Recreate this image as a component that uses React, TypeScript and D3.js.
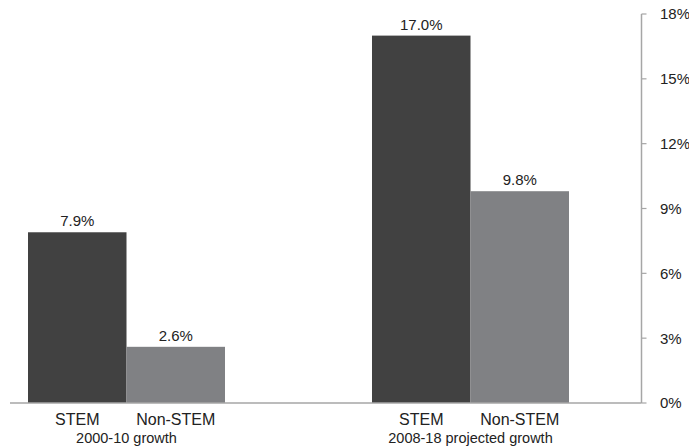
import React from "react";
import * as d3 from "d3";

const groups = ["2000-10 growth", "2008-18 projected growth"];
const series = ["STEM", "Non-STEM"];
const stemValues = [7.9, 17.0];
const nonStemValues = [2.6, 9.8];
const yTicks = [0, 3, 6, 9, 12, 15, 18];
const colors = ["#414141", "#808184"];

const W = 689;
const H = 447;

export default function App() {
  const x0 = d3.scaleBand<string>().domain(groups).range([28, 569]).paddingInner(0.4273).paddingOuter(0);
  const x1 = d3.scaleBand<string>().domain(series).range([0, x0.bandwidth()]).padding(0);
  const y = d3.scaleLinear().domain([0, 18]).range([403, 14]);
  const axisX = 641.5;
  const font = "'Liberation Sans', Arial, Helvetica, sans-serif";
  const valuesBySeries = [stemValues, nonStemValues];

  return (
    <svg width={W} height={H} style={{ position: "absolute", left: 0, top: 0, fontFamily: font }}>
      <rect width={W} height={H} fill="#fff" />
      {groups.map((g, gi) => (
        <g key={g} transform={`translate(${x0(g)},0)`}>
          {series.map((s, si) => {
            const v = valuesBySeries[si][gi];
            const bx = x1(s)!;
            const bw = x1.bandwidth();
            return (
              <g key={s}>
                <rect x={bx} y={y(v)} width={bw} height={y(0) - y(v)} fill={colors[si]} />
                <text x={bx + bw / 2} y={y(v) - 6} textAnchor="middle" fontSize={15} fill="#222">
                  {v.toFixed(1) + "%"}
                </text>
                <text x={bx + bw / 2} y={425} textAnchor="middle" fontSize={16} fill="#222">
                  {s}
                </text>
              </g>
            );
          })}
          <text x={x0.bandwidth() / 2} y={443} textAnchor="middle" fontSize={14.5} fill="#222">
            {g}
          </text>
        </g>
      ))}
      <line x1={10} x2={axisX} y1={y(0)} y2={y(0)} stroke="#a6a6a6" strokeWidth={1.5} />
      <line x1={axisX} x2={axisX} y1={y(18)} y2={y(0)} stroke="#a6a6a6" strokeWidth={1.5} />
      {yTicks.map((t) => (
        <g key={t}>
          <line x1={axisX} x2={axisX + 5} y1={y(t)} y2={y(t)} stroke="#a6a6a6" strokeWidth={1.2} />
          <text x={660} y={y(t)} dy="0.36em" fontSize={15} fill="#222">
            {t + "%"}
          </text>
        </g>
      ))}
    </svg>
  );
}
